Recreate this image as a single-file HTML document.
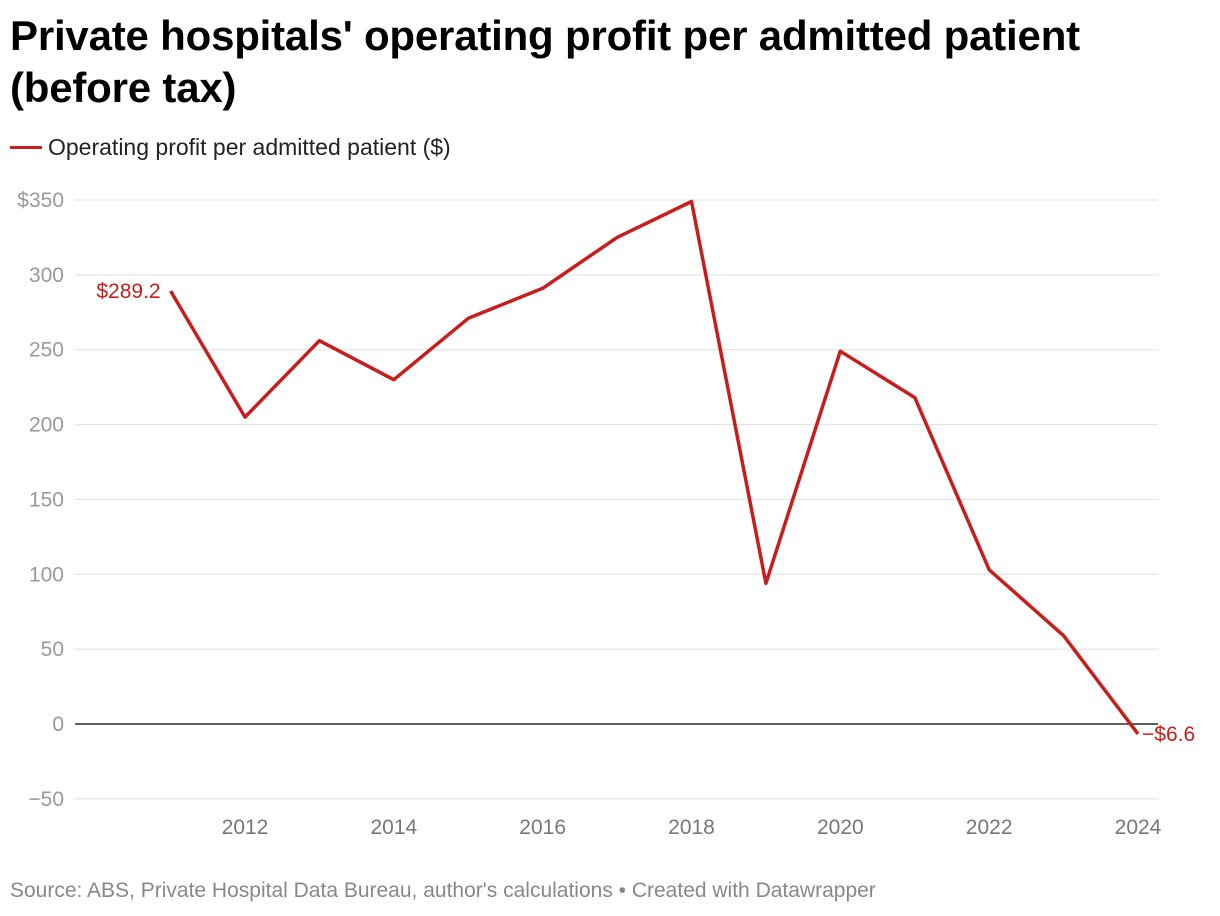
<!DOCTYPE html>
<html><head><meta charset="utf-8"><style>
body{margin:0;background:#fff;font-family:"Liberation Sans",Arial,sans-serif;}
.wrap{position:relative;width:1220px;height:916px;overflow:hidden}
h1{position:absolute;left:10px;top:10px;margin:0;font-size:42px;line-height:52px;font-weight:bold;color:#000;width:1100px;letter-spacing:-0.2px}
.legend{position:absolute;left:10px;top:134px;font-size:23px;color:#222;display:flex;align-items:center}
.legend span.sw{display:inline-block;width:32px;height:3px;background:#c71e1d;margin-right:6px}
.src{position:absolute;left:10px;top:879px;font-size:21px;color:#888}
svg{position:absolute;left:0;top:0}
</style></head><body><div class="wrap">
<h1>Private hospitals' operating profit per admitted patient (before tax)</h1>
<div class="legend"><span class="sw"></span>Operating profit per admitted patient ($)</div>
<svg id="c" width="1220" height="916"></svg>
<div class="src">Source: ABS, Private Hospital Data Bureau, author's calculations • Created with Datawrapper</div>
</div>
<script>
const years=[2011,2012,2013,2014,2015,2016,2017,2018,2019,2020,2021,2022,2023,2024];
const values=[289.2,205,256,230,271,291,325,349,94,249,218,103,59,-6.6];
const yTicks=[-50,0,50,100,150,200,250,300,350];
const yTickLabels=["−50","0","50","100","150","200","250","300","$350"];
const xTicks=[2012,2014,2016,2018,2020,2022,2024];
const NS="http://www.w3.org/2000/svg";
const svg=document.getElementById('c');
const y=v=>724-v*(524/350);
const x=t=>245+(t-2012)*(893/12);
function el(tag,a,txt){const e=document.createElementNS(NS,tag);for(const k in a)e.setAttribute(k,a[k]);if(txt!==undefined)e.textContent=txt;svg.appendChild(e);return e;}
yTicks.forEach((t,i)=>{
 const g=el('line',{x1:75,x2:1158,y1:y(t),y2:y(t),stroke:t===0?'#000':'#e0e0e0','stroke-width':t===0?1.3:1});
 
 
 const l=el('text',{x:64,y:y(t)+7,'text-anchor':'end','font-size':21,fill:'#999'},yTickLabels[i]);
 
 
});
xTicks.forEach(t=>{
 const l=el('text',{x:x(t),y:834,'text-anchor':'middle','font-size':21,fill:'#777'},String(t));
 
 
});
const d=years.map((t,i)=>(i?'L':'M')+x(t).toFixed(1)+','+y(values[i]).toFixed(1)).join('');
const p=el('path',{d:d,fill:'none',stroke:'#c71e1d','stroke-width':3.5,'stroke-linejoin':'round'});


const fmt=v=>(v<0?'−':'')+'$'+Math.abs(v).toFixed(1);
const a=el('text',{x:x(years[0])-10,y:y(values[0])+7,'text-anchor':'end','font-size':21,fill:'#c71e1d'},fmt(values[0]));


const n=values.length-1;
const b=el('text',{x:x(years[n])+4,y:y(values[n])+7,'font-size':21,fill:'#c71e1d'},fmt(values[n]));


</script></body></html>
